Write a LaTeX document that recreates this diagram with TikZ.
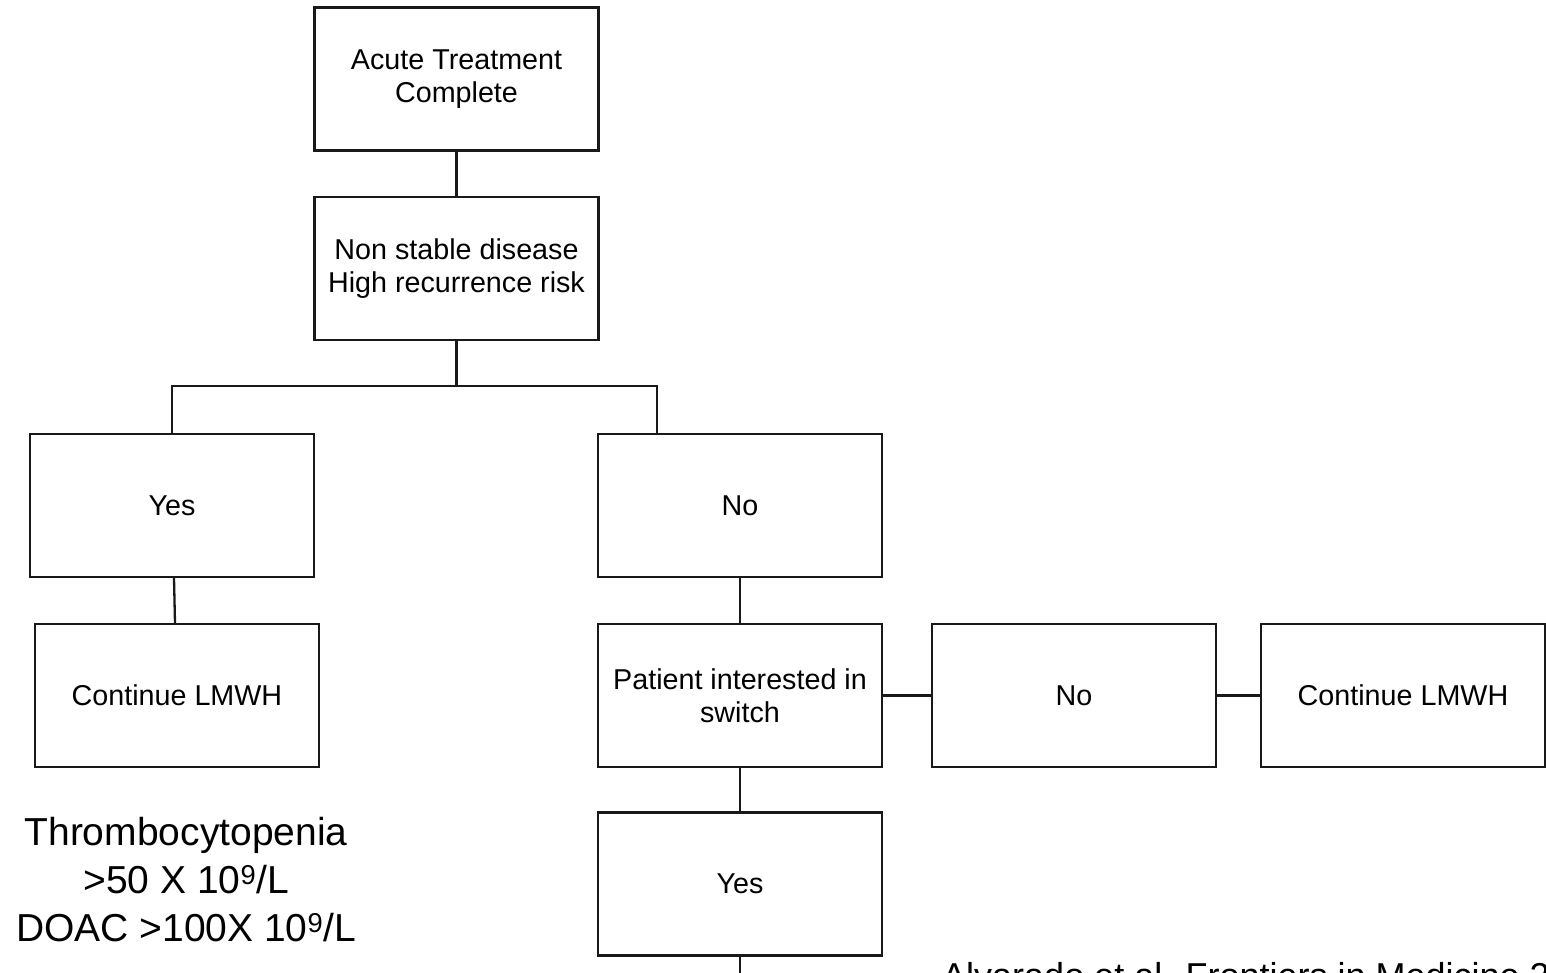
\documentclass[tikz,border=0pt]{standalone}
\usepackage{fontspec}
\setmainfont{Liberation Sans}
\begin{document}
\begin{tikzpicture}[x=1pt,y=-1pt,
  flowbox/.style={draw=black!90, line width=2.3pt, rectangle,
    minimum width=284pt, minimum height=143pt, align=center, inner sep=0pt,
    font=\fontsize{28.7}{33.5}\selectfont},
  link/.style={draw=black!90, line width=2.3pt},
  note/.style={align=center, inner sep=0pt, font=\fontsize{39}{48}\selectfont}]
\useasboundingbox (0,0) rectangle (1546,973);
\clip (0,0) rectangle (1546,973);
\fill[white] (0,0) rectangle (1546,973);

% decision boxes
\node[flowbox] (acute)   at (456.5, 79)   {Acute Treatment\\Complete};
\node[flowbox] (risk)    at (456.5, 268.5){Non stable disease\\High recurrence risk};
\node[flowbox] (yes)     at (172, 505.5)  {Yes};
\node[flowbox] (no)      at (740, 505.5)  {No};
\node[flowbox] (lmwhA)   at (177, 695.5)  {Continue LMWH};
\node[flowbox] (switch)  at (740, 695.5)  {Patient interested in\\switch};
\node[flowbox] (noB)     at (1074, 695.5) {No};
\node[flowbox] (lmwhB)   at (1403, 695.5) {Continue LMWH};
\node[flowbox] (yesB)    at (740, 884)    {Yes};

% free-standing notes
\node[note] (thrombo) at (186, 880)
  {Thrombocytopenia\\>50 X 10\textsuperscript{9}/L\\DOAC >100X 10\textsuperscript{9}/L};
\node[anchor=base west, inner sep=0pt, font=\fontsize{36}{43}\selectfont] (cite)
  at (942, 988) {Alvarado et al. Frontiers in Medicine 2};

% connectors
\coordinate (fork) at (456.5, 386);
\coordinate (tail) at (740, 1000);
\draw[link] (acute.south) -- (risk.north);
\draw[link] (risk.south) -- (fork);
\draw[link] (fork) -| (yes.north);
\draw[link] (fork) -| ([xshift=-83pt]no.north);
\draw[link] ([xshift=2pt]yes.south) -- ([xshift=-2pt]lmwhA.north);
\draw[link] (no.south) -- (switch.north);
\draw[link] (switch.east) -- (noB.west);
\draw[link] (noB.east) -- (lmwhB.west);
\draw[link] (switch.south) -- (yesB.north);
\draw[link] (yesB.south) -- (tail);
\end{tikzpicture}
\end{document}
